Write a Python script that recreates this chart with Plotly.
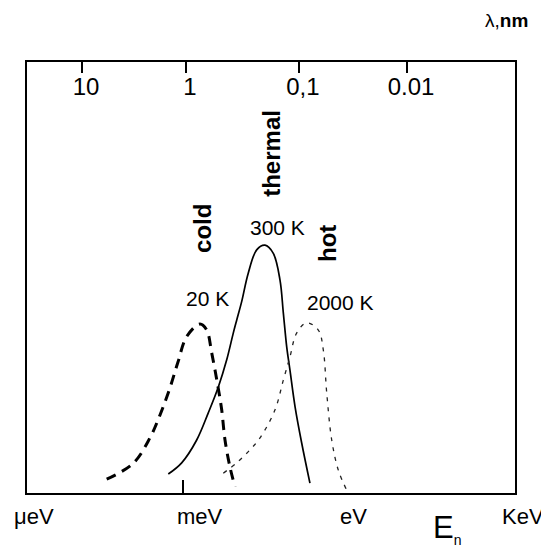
import numpy as np
import plotly.graph_objects as go

# ---- data (energies in meV, intensity in arbitrary units) ----
cold_E = [0.0391, 0.121, 0.246, 0.377, 0.575, 0.809, 1.17, 2.06, 2.74, 3.39, 4.43, 5.18, 5.96, 7.37, 9.12]
cold_I = [3.2, 6.9, 12.8, 18.1, 24.4, 30.4, 36.3, 39.2, 37.8, 32.5, 24.6, 19.3, 12.3, 6.0, 1.4]

thermal_E = [0.536, 0.946, 1.79, 2.93, 4.49, 6.41, 8.47, 9.79, 12.1, 16.0, 22.9, 32.6, 46.4, 61.7, 71.0, 82.0, 94.2, 117, 155, 220]
thermal_I = [4.4, 7.0, 12.3, 18.6, 24.6, 30.9, 37.1, 40.1, 44.4, 51.0, 56.4, 57.5, 55.6, 49.4, 41.8, 33.9, 28.5, 20.0, 11.6, 2.3]

hot_E = [5.54, 9.79, 17.2, 26.4, 49.9, 71.0, 94.2, 125, 191, 314, 388, 449, 555, 735, 1047]
hot_I = [4.6, 7.0, 10.0, 12.8, 19.3, 26.2, 31.6, 37.1, 39.5, 37.8, 33.2, 23.2, 12.3, 5.3, 0.7]

# bottom energy-unit labels (meV) and top wavelength ticks
energy_units = ["μeV", "meV", "eV", "KeV"]
energy_unit_vals = [1e-3, 1.0, 1e3, 1e6]
wl_labels = ["10", "1", "0,1", "0.01"]
wl_tick_E = [0.0137, 1.135, 138, 13600]

# curve annotations: (text, E in meV, intensity, angle, bold)
curve_labels = [
    ("cold", 2.34, 61.5, -90, True),
    ("thermal", 43.9, 78.7, -90, True),
    ("hot", 454, 58.0, -90, True),
    ("300 K", 56.6, 61.7, 0, False),
    ("20 K", 2.89, 45.2, 0, False),
    ("2000 K", 789, 44.3, 0, False),
]

XR = [-2.878, 6.126]
FONT = "Liberation Sans, Arial, sans-serif"

fig = go.Figure()
fig.add_trace(go.Scatter(x=cold_E, y=cold_I, mode="lines",
                         line=dict(color="black", width=3, dash="10px,7px", shape="spline", smoothing=1.0)))
fig.add_trace(go.Scatter(x=thermal_E, y=thermal_I, mode="lines",
                         line=dict(color="black", width=1.7, shape="spline", smoothing=1.0)))
fig.add_trace(go.Scatter(x=hot_E, y=hot_I, mode="lines", xaxis="x2",
                         line=dict(color="#222", width=1.3, dash="4px,6px", shape="spline", smoothing=1.0)))

annotations = []
for t, e in zip(energy_units, energy_unit_vals):
    frac = (np.log10(e) - XR[0]) / (XR[1] - XR[0])
    annotations.append(dict(text=t, x=frac, y=0, xref="paper", yref="paper",
                            xanchor="left", yanchor="middle", xshift=-8, yshift=-23,
                            showarrow=False, font=dict(family=FONT, size=22, color="black")))
for t, e, i, ang, bold in curve_labels:
    annotations.append(dict(text=f"<b>{t}</b>" if bold else t, x=np.log10(e), y=i, xref="x", yref="y",
                            textangle=ang, showarrow=False, xanchor="center", yanchor="middle",
                            font=dict(family=FONT, size=24 if bold else 21, color="black")))
annotations.append(dict(text="λ,<b>nm</b>", x=0.9816, y=1.0974, xref="paper", yref="paper", showarrow=False,
                        xanchor="center", yanchor="middle",
                        font=dict(family=FONT, size=19, color="black")))
annotations.append(dict(text="E<sub><span style='font-size:14px'>n</span></sub>", x=0.828, y=-0.035,
                        xref="paper", yref="paper", showarrow=False, xanchor="left", yanchor="top",
                        font=dict(family=FONT, size=31, color="black")))

fig.update_layout(
    width=541, height=550,
    margin=dict(l=19, r=34, t=54, b=65),
    paper_bgcolor="white", plot_bgcolor="white",
    showlegend=False,
    font=dict(family=FONT, color="black"),
    xaxis=dict(type="log", range=XR, showgrid=False, zeroline=False,
               showline=True, linecolor="black", linewidth=2, mirror=True,
               tickvals=[energy_unit_vals[1]], ticks="inside", ticklen=13, tickwidth=2,
               tickcolor="black", showticklabels=False),
    xaxis2=dict(type="log", range=XR, overlaying="x", side="top", showgrid=False, zeroline=False,
                tickvals=wl_tick_E, ticktext=wl_labels, ticks="inside", ticklen=11, tickwidth=2,
                tickcolor="black", ticklabelposition="inside", ticklabelstandoff=7, ticklabelshift=4,
                tickfont=dict(family=FONT, size=24, color="black")),
    yaxis=dict(range=[0, 100], showgrid=False, zeroline=False, showline=True, linecolor="black",
               linewidth=2, mirror=True, ticks="", showticklabels=False),
    annotations=annotations,
)

fig.write_html("out.html")
